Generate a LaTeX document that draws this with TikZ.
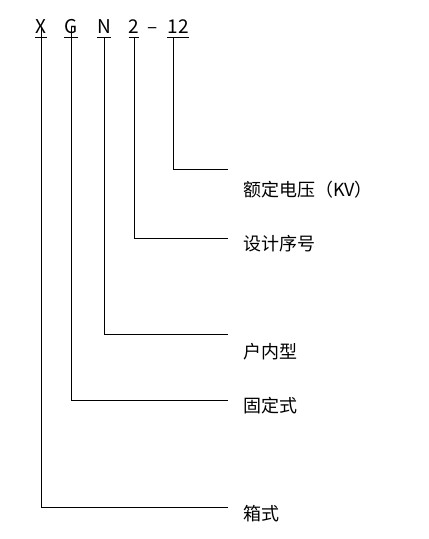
\documentclass[tikz,border=0pt]{standalone}
\usepackage{fontspec}
\newfontfamily\cjk{Noto Sans CJK SC}

\begin{document}
\begin{tikzpicture}[x=1pt,y=-1pt,
  code/.style={anchor=base,inner sep=0pt,font=\cjk\fontsize{19}{19}\selectfont},
  item/.style={anchor=west,inner sep=0pt,font=\cjk\fontsize{18}{18}\selectfont},
  bar/.style={line width=0.8pt}]
  \useasboundingbox (0,0) rectangle (429,539);

  \node[code] (cX) at (41,33) {X};
  \node[code] (cG) at (71,33) {G};
  \node[code] (cN) at (104,33) {N};
  \node[code] (c2) at (134,33) {2};
  \node[code] (cd) at (153,33) {–};
  \node[code] (c12) at (178,33) {12};

  \node[item] (kv) at (243,190) {额定电压（KV）};
  \node[item] (no) at (243,244) {设计序号};
  \node[item] (in) at (243,352) {户内型};
  \node[item] (fx) at (243,406) {固定式};
  \node[item] (bx) at (243,514) {箱式};

  \coordinate (tkv) at (228,169);
  \coordinate (tno) at (228,238);
  \coordinate (tin) at (228,334);
  \coordinate (tfx) at (228,400);
  \coordinate (tbx) at (228,507);

  \foreach \c in {cX,cG,cN,c2,c12}
    \draw[bar] ([yshift=-4pt]\c.base west) -- ([yshift=-4pt]\c.base east);

  \draw[bar] ([xshift=-5pt,yshift=-4pt]c12.base) |- (tkv);
  \draw[bar] ([yshift=-4pt]c2.base) |- (tno);
  \draw[bar] ([yshift=-4pt]cN.base) |- (tin);
  \draw[bar] ([yshift=6pt]cG.base) |- (tfx);
  \draw[bar] ([yshift=6pt]cX.base) |- (tbx);
\end{tikzpicture}
\end{document}
